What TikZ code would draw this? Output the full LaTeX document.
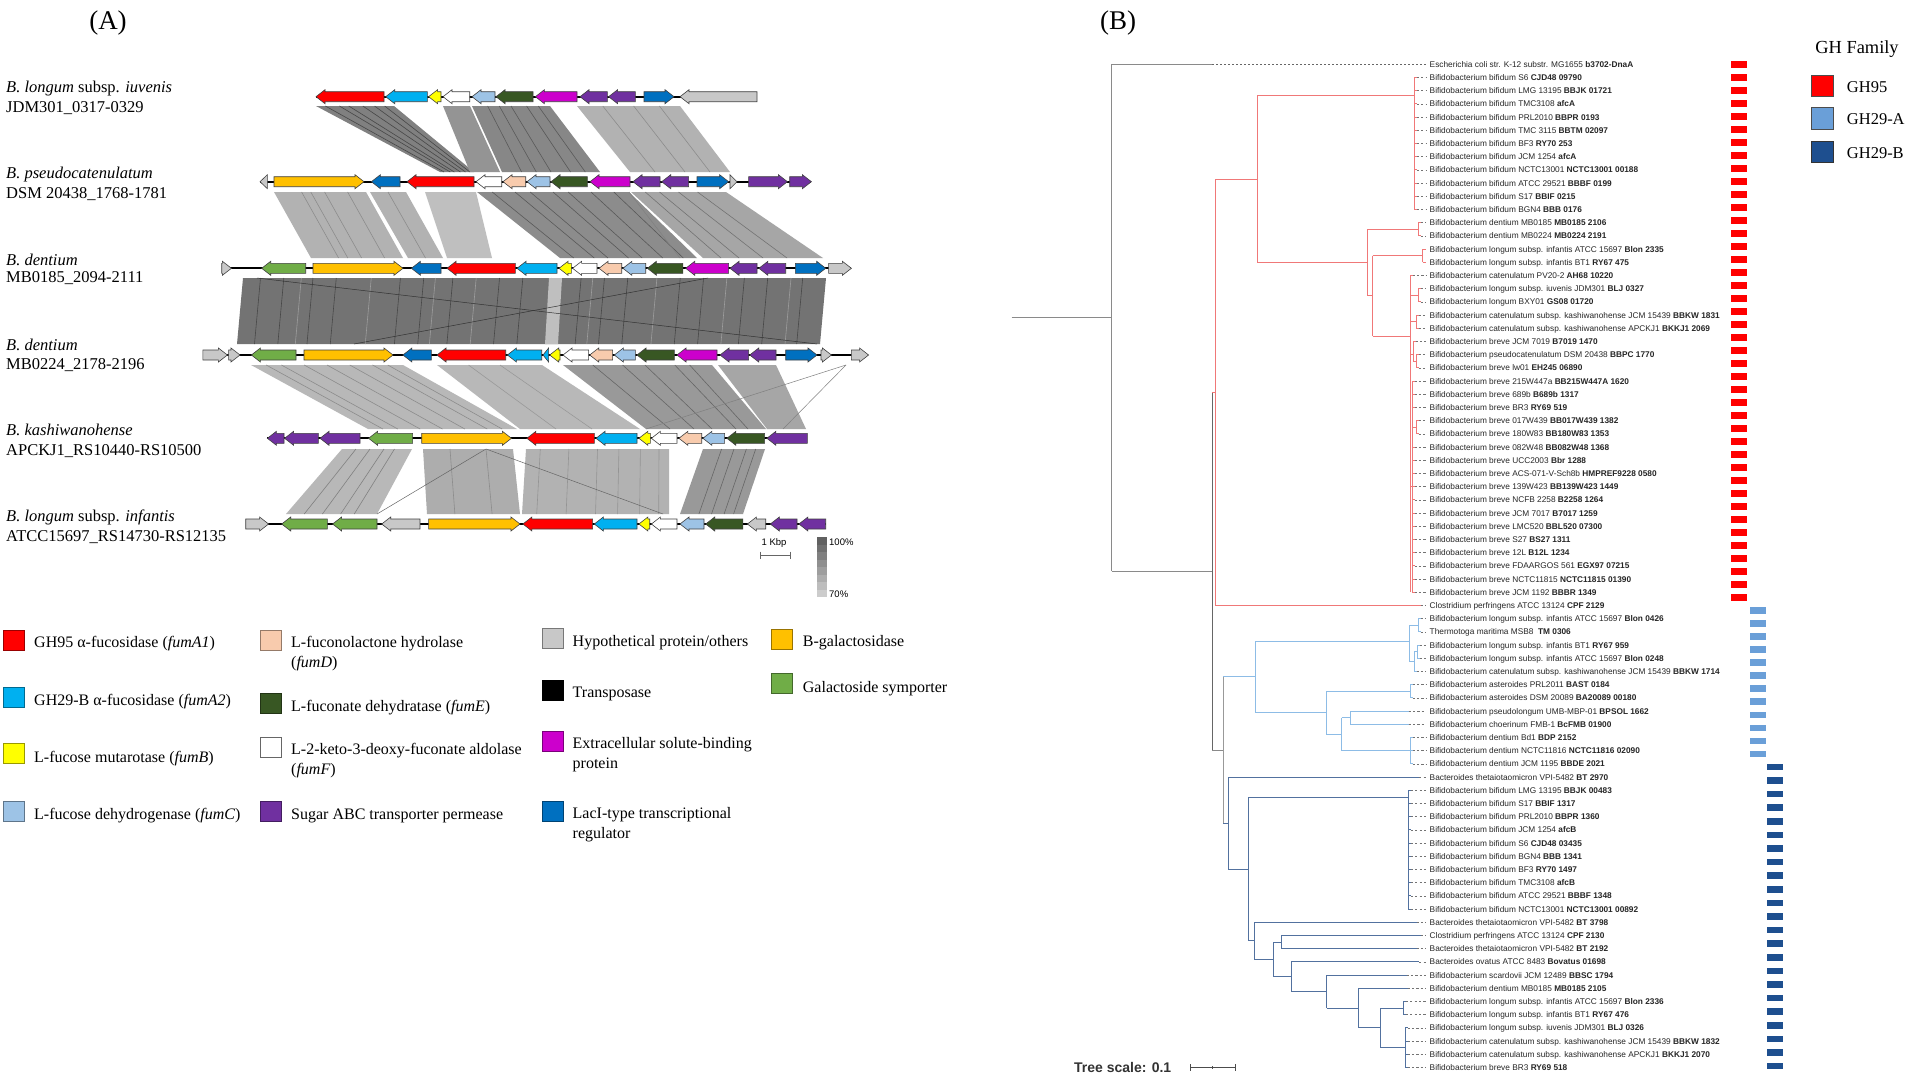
\documentclass[tikz,border=0pt]{standalone}
\usepackage{fontspec}
\setmainfont{Liberation Serif}
\newfontfamily\arialf{Liberation Sans}
\definecolor{gRed}{HTML}{FF0000}
\definecolor{gCyan}{HTML}{00B0F0}
\definecolor{gYel}{HTML}{FFFF00}
\definecolor{gLB}{HTML}{9DC3E6}
\definecolor{gDG}{HTML}{385723}
\definecolor{gMag}{HTML}{CC00CC}
\definecolor{gPur}{HTML}{7030A0}
\definecolor{gBlue}{HTML}{0070C0}
\definecolor{gGray}{HTML}{C8C8C8}
\definecolor{gOr}{HTML}{FFC000}
\definecolor{gGr}{HTML}{70AD47}
\definecolor{gPe}{HTML}{F8CBAD}
\definecolor{trRed}{HTML}{F07878}
\definecolor{trLB}{HTML}{8DBCE6}
\definecolor{trDB}{HTML}{52719F}
\definecolor{trGray}{HTML}{8A8A8A}
\definecolor{barLB}{HTML}{6A9FD8}
\definecolor{barDB}{HTML}{1E4F8F}
\pgfmathdeclarefunction{ly}{1}{\pgfmathparse{64.3+(#1-1)*13.2}}
\tikzset{
 genestyle/.style={draw=black!75, line width=0.6pt},
 ldash/.style={draw=black!55, line width=0.6pt, dash pattern=on 2.2pt off 2.2pt},
 rbr/.style={draw=trRed, line width=0.9pt},
 lbr/.style={draw=trLB, line width=0.9pt},
 dbr/.style={draw=trDB, line width=0.9pt},
 gbr/.style={draw=trGray, line width=0.9pt},
 leaftxt/.style={font=\arialf\fontsize{8.3}{9}\selectfont, text=black!85, anchor=base west, inner sep=0pt},
 trk/.style={font=\fontsize{16.5}{18}\selectfont, anchor=base west, inner sep=0pt},
 lgt/.style={font=\fontsize{16}{18}\selectfont, anchor=base west, inner sep=0pt},
 lgbox/.style={line width=0.8pt},
 smallsans/.style={font=\arialf\fontsize{9.5}{10}\selectfont, inner sep=0pt},
}
% genes
\newcommand\gl[3]{%
 \pgfmathsetmacro\hx{#1+min(9,#2-#1)}%
 \draw[genestyle, fill=#3] (#1,\ty) -- (\hx,{\ty-7}) -- (\hx,{\ty-5}) -- (#2,{\ty-5}) -- (#2,{\ty+5}) -- (\hx,{\ty+5}) -- (\hx,{\ty+7}) -- cycle;}
\newcommand\gr[3]{%
 \pgfmathsetmacro\hx{#2-min(9,#2-#1)}%
 \draw[genestyle, fill=#3] (#2,\ty) -- (\hx,{\ty-7}) -- (\hx,{\ty-5}) -- (#1,{\ty-5}) -- (#1,{\ty+5}) -- (\hx,{\ty+5}) -- (\hx,{\ty+7}) -- cycle;}
\newcommand\bb[2]{\draw[line width=1.8pt] (#1,\ty) -- (#2,\ty);}
% synteny bands
\newcommand\band[7]{\fill[#7] (#1,#5) -- (#2,#5) -- (#4,#6) -- (#3,#6) -- cycle;}
\newcommand\stripes[8]{\foreach \f in {#8} {\draw[#7, line width=0.6pt] ({#1+\f*(#2-#1)},#5) -- ({#3+\f*(#4-#3)},#6);}}
% tree
\newcommand\hb[4]{\draw[#4] (#1,{ly(#3)}) -- (#2,{ly(#3)});}
\newcommand\vb[4]{\draw[#4] (#1,{ly(#2)}) -- (#1,{ly(#3)});}
\newcommand\lf[3]{\draw[#3] (#2,{ly(#1)}) -- ({#2+2.5},{ly(#1)}); \draw[ldash] ({#2+2.5},{ly(#1)}) -- (1426,{ly(#1)});}
\newcommand\lbox[3]{\draw[lgbox, fill=#3, draw=#3!60!black] (#1,{#2-10}) rectangle ({#1+21},{#2+10});}
\begin{document}
\begin{tikzpicture}[x=1pt,y=-1pt]
\useasboundingbox (0,0) rectangle (1908,1076);
\fill[white] (0,0) rectangle (1908,1076);

\node[font=\fontsize{27}{30}\selectfont] (labA) at (108,23) {(A)};
\node[font=\fontsize{27}{30}\selectfont] (labB) at (1118,23) {(B)};

% ---------------- synteny bands ----------------
% pair 1-2
\band{316}{394}{440}{474}{106}{172}{black!50}
\stripes{316}{394}{440}{474}{106}{172}{black!72}{0.12,0.3,0.42,0.6,0.75,0.88}
\band{443}{470}{470}{500}{106}{172}{black!42}
\band{472}{550}{502}{600}{106}{172}{black!47}
\stripes{472}{550}{502}{600}{106}{172}{black!65}{0.2,0.35,0.5,0.7,0.85}
\band{577}{680}{630}{730}{106}{172}{black!30}
\stripes{577}{680}{630}{730}{106}{172}{black!45}{0.25,0.55,0.8}
% pair 2-3
\band{274}{366}{311}{403}{192}{258}{black!30}
\stripes{274}{366}{311}{403}{192}{258}{black!45}{0.3,0.4,0.55,0.8}
\band{370}{406}{408}{443}{192}{258}{black!30}
\stripes{370}{406}{408}{443}{192}{258}{black!45}{0.5}
\band{425}{476}{447}{492}{192}{258}{black!25}
\band{477}{629}{560}{697}{192}{258}{black!45}
\stripes{477}{629}{560}{697}{192}{258}{black!65}{0.1,0.25,0.35,0.5,0.6,0.75,0.9}
\band{631}{726}{703}{823}{192}{258}{black!35}
\stripes{631}{726}{703}{823}{192}{258}{black!55}{0.15,0.3,0.5,0.7}
\draw[black!50, line width=0.5pt] (629,192) -- (680,258);
% pair 3-4
\band{243}{826}{237}{820}{278}{344}{black!55}
\stripes{243}{826}{237}{820}{278}{344}{black!72}{0.03,0.07,0.12,0.16,0.27,0.31,0.36,0.44,0.48,0.58,0.62,0.66,0.75,0.79,0.86,0.9,0.96}
\stripes{243}{826}{237}{820}{278}{344}{black!38}{0.1,0.22,0.33,0.4,0.53,0.6,0.71,0.83,0.94}
\band{549}{562}{545}{558}{278}{344}{black!25}
\draw[black!80, line width=0.5pt] (257,278) -- (817,344);
\draw[black!80, line width=0.5pt] (354,344) -- (708,278);
% pair 4-5
\band{251}{403}{368}{517}{365}{429}{black!28}
\stripes{251}{403}{368}{517}{365}{429}{black!45}{0.1,0.2,0.35,0.5,0.65,0.8,0.9}
\band{437}{542}{520}{640}{365}{429}{black!28}
\stripes{437}{542}{520}{640}{365}{429}{black!40}{0.3,0.6}
\band{563}{712}{646}{766}{365}{429}{black!40}
\stripes{563}{712}{646}{766}{365}{429}{black!60}{0.2,0.4,0.55,0.75,0.85}
\band{718}{776}{767}{806}{365}{429}{black!35}
\draw[black!50, line width=0.5pt] (846,365) -- (646,429);
\draw[black!50, line width=0.5pt] (846,365) -- (783,429);
% pair 5-6
\band{342}{412}{286}{377}{449}{514}{black!28}
\stripes{342}{412}{286}{377}{449}{514}{black!50}{0.2,0.4,0.6,0.75}
\band{423}{513}{427}{520}{449}{514}{black!32}
\stripes{423}{513}{427}{520}{449}{514}{black!45}{0.3,0.7}
\band{526}{669}{522}{669}{449}{514}{black!30}
\stripes{526}{669}{522}{669}{449}{514}{black!42}{0.1,0.3,0.5,0.65,0.8,0.93}
\band{703}{765}{680}{743}{449}{514}{black!40}
\stripes{703}{765}{680}{743}{449}{514}{black!60}{0.3,0.5,0.7,0.85}
\draw[black!60, line width=0.5pt] (486,449) -- (377,514);
\draw[black!60, line width=0.5pt] (486,449) -- (663,514);

% ---------------- gene tracks ----------------
\def\ty{96.7}
\bb{316}{757}
\gl{316}{384}{gRed}\gl{385.7}{427.4}{gCyan}\gl{428.6}{441}{gYel}\gl{443}{469.7}{white}
\gl{472}{495}{gLB}\gl{496}{533}{gDG}\gl{535.4}{577}{gMag}\gl{580}{607.4}{gPur}
\gl{608.6}{635.4}{gPur}\gr{644}{674}{gBlue}\gl{680}{757}{gGray}

\def\ty{181.7}
\bb{260}{811}
\gl{260}{267.4}{gGray}\gr{274}{364}{gOr}\gl{371.4}{400}{gBlue}\gl{407}{474}{gRed}
\gl{476}{501.7}{white}\gl{503}{525.7}{gPe}\gl{527}{550}{gLB}\gl{551}{587.4}{gDG}
\gl{590}{630}{gMag}\gl{633}{660}{gPur}\gl{661.7}{688.6}{gPur}\gr{697}{728.6}{gBlue}
\gr{730}{737}{gGray}\gr{748.6}{787.4}{gPur}\gr{789.7}{811.4}{gPur}

\def\ty{268.3}
\bb{222}{851}
\gr{221.7}{231.4}{gGray}\gl{261.7}{305.7}{gGr}\gr{313}{403}{gOr}\gl{411.4}{441}{gBlue}
\gl{447}{515.4}{gRed}\gl{517}{557}{gCyan}\gl{559}{571.4}{gYel}\gl{572.6}{597}{white}
\gl{599}{621.7}{gPe}\gl{622.9}{645.7}{gLB}\gl{647.4}{682.9}{gDG}\gl{685.7}{728.6}{gMag}
\gl{730}{757}{gPur}\gl{758.9}{785.7}{gPur}\gr{795.4}{825.7}{gBlue}\gr{828.6}{851.4}{gGray}

\def\ty{355}
\bb{203}{868}
\gr{202.9}{227.4}{gGray}\gr{228.6}{240}{gGray}\gl{251.4}{296}{gGr}\gr{304}{393}{gOr}
\gl{402.9}{431.4}{gBlue}\gl{437}{505.7}{gRed}\gl{507.4}{541.7}{gCyan}\gl{543}{548.6}{gCyan}
\gl{549.7}{560}{gYel}\gl{563}{588.6}{white}\gl{589.7}{612.6}{gPe}\gl{614.3}{635.4}{gLB}
\gl{637}{674.3}{gDG}\gl{677}{717}{gMag}\gl{720}{748.6}{gPur}\gl{749.7}{776}{gPur}
\gr{785.7}{817}{gBlue}\gr{821}{831.4}{gGray}\gr{851.4}{868.6}{gGray}

\def\ty{438.3}
\bb{267}{807}
\gl{267.4}{284}{gPur}\gl{284.6}{318.3}{gPur}\gl{320}{360}{gPur}\gl{368.6}{412.6}{gGr}
\gr{421.7}{511.4}{gOr}\gl{526.9}{594.3}{gRed}\gl{596}{637}{gCyan}\gl{638.9}{650.3}{gYel}
\gl{651.4}{677}{white}\gl{678.9}{701.7}{gPe}\gl{702.9}{724.6}{gLB}\gl{726.9}{764.6}{gDG}
\gl{766.9}{807.4}{gPur}

\def\ty{524}
\bb{246}{826}
\gr{245.7}{268.6}{gGray}\gl{281.7}{327.4}{gGr}\gl{332.6}{377}{gGr}\gl{381.7}{420}{gGray}
\gr{428.6}{520}{gOr}\gl{522.9}{592.6}{gRed}\gl{594.3}{637}{gCyan}\gl{638.9}{649.7}{gYel}
\gl{651.4}{677}{white}\gl{680}{704}{gLB}\gl{705.7}{742.9}{gDG}\gl{747.4}{765.7}{gGray}
\gl{770.3}{797}{gPur}\gl{798.9}{825.7}{gPur}

% track labels
\node[trk] (t1a) at (6,92.2) {\textit{B. longum} subsp. \textit{iuvenis}};
\node[trk] (t1b) at (6,112.2) {JDM301\_0317-0329};
\node[trk] (t2a) at (6,178.8) {\textit{B. pseudocatenulatum}};
\node[trk] (t2b) at (6,198.8) {DSM 20438\_1768-1781};
\node[trk] (t3a) at (6,265.5) {\textit{B. dentium}};
\node[trk] (t3b) at (6,282.2) {MB0185\_2094-2111};
\node[trk] (t4a) at (6,350.5) {\textit{B. dentium}};
\node[trk] (t4b) at (6,369.8) {MB0224\_2178-2196};
\node[trk] (t5a) at (6,435.5) {\textit{B. kashiwanohense}};
\node[trk] (t5b) at (6,455.5) {APCKJ1\_RS10440-RS10500};
\node[trk] (t6a) at (6,521.5) {\textit{B. longum} subsp. \textit{infantis}};
\node[trk] (t6b) at (6,541.5) {ATCC15697\_RS14730-RS12135};

% scale and identity legend
\node[smallsans] (kbp) at (774,543) {1 Kbp};
\draw[black!60, line width=0.8pt] (760,555) -- (790,555);
\draw[black!60, line width=0.8pt] (760,551.5) -- (760,558.5);
\draw[black!60, line width=0.8pt] (790,551.5) -- (790,558.5);
\foreach \k in {0,...,7} {
  \pgfmathsetmacro\shade{62-\k*6}
  \fill[black!\shade] (817,{537+\k*7.5}) rectangle (827,{537+(\k+1)*7.5});
}
\node[smallsans, anchor=west] (p100) at (829,542) {100\%};
\node[smallsans, anchor=west] (p70) at (829,594) {70\%};

% ---------------- legend (A) ----------------
\lbox{3}{640}{gRed}   \node[lgt] (lg1) at (34,647) {GH95 α-fucosidase (\textit{fumA1})};
\lbox{3}{697}{gCyan}  \node[lgt] (lg2) at (34,705) {GH29-B α-fucosidase (\textit{fumA2})};
\lbox{3}{753}{gYel}   \node[lgt] (lg3) at (34,762) {L-fucose mutarotase (\textit{fumB})};
\lbox{3}{811}{gLB}    \node[lgt] (lg4) at (34,819) {L-fucose dehydrogenase (\textit{fumC})};
\lbox{260}{640}{gPe}  \node[lgt] (lg5) at (291,647) {L-fuconolactone hydrolase};
                      \node[lgt] (lg5b) at (291,667) {(\textit{fumD})};
\lbox{260}{703}{gDG}  \node[lgt] (lg6) at (291,711) {L-fuconate dehydratase (\textit{fumE})};
\draw[lgbox, fill=white, draw=black!60] (260,737) rectangle (281,757);
                      \node[lgt] (lg7) at (291,754.5) {L-2-keto-3-deoxy-fuconate aldolase};
                      \node[lgt] (lg7b) at (291,774.5) {(\textit{fumF})};
\lbox{260}{811}{gPur} \node[lgt] (lg8) at (291,819) {Sugar ABC transporter permease};
\lbox{542.6}{638}{gGray} \node[lgt] (lg9) at (572.5,646) {Hypothetical protein/others};
\draw[lgbox, fill=black, draw=black] (542.6,680) rectangle (563.6,700);
                      \node[lgt] (lg10) at (572.5,697) {Transposase};
\lbox{542.6}{741.7}{gMag} \node[lgt] (lg11) at (572.5,748.5) {Extracellular solute-binding};
                      \node[lgt] (lg11b) at (572.5,768.5) {protein};
\lbox{542.6}{811}{gBlue} \node[lgt] (lg12) at (572.5,818.5) {LacI-type transcriptional};
                      \node[lgt] (lg12b) at (572.5,838.5) {regulator};
\lbox{771.6}{639}{gOr} \node[lgt] (lg13) at (802.7,646) {B-galactosidase};
\lbox{771.6}{683}{gGr} \node[lgt] (lg14) at (802.7,692) {Galactoside symporter};

% ---------------- tree (B) ----------------
\draw[gbr] (1011.7,{ly(20.2)}) -- (1111.7,{ly(20.2)});
\vb{1111.7}{1}{39.4}{gbr}
\hb{1111.7}{1212.3}{1}{gbr}
\draw[black!60, line width=0.8pt, dash pattern=on 1.5pt off 2.5pt] (1212.3,{ly(1)}) -- (1426,{ly(1)});
\hb{1111.7}{1212.3}{39.4}{gbr}
\vb{1212.3}{25.85}{52.95}{draw=black!60, line width=0.9pt}
% red clade
\hb{1212.3}{1215.7}{25.85}{rbr}
\vb{1215.7}{9.7}{42}{rbr}
\hb{1215.7}{1257}{9.7}{rbr}
\vb{1257}{3.37}{16.02}{rbr}
\hb{1257}{1414.3}{3.37}{rbr}
\vb{1414.3}{2}{12}{rbr}
\foreach \i in {2,...,12} {\lf{\i}{1414.3}{rbr}}
\hb{1257}{1367.3}{16.02}{rbr}
\vb{1367.3}{13.5}{18.54}{rbr}
\hb{1367.3}{1418.3}{13.5}{rbr}
\vb{1418.3}{13}{14}{rbr}
\lf{13}{1418.3}{rbr}\lf{14}{1418.3}{rbr}
\hb{1367.3}{1372.7}{18.54}{rbr}
\vb{1372.7}{15.5}{21.58}{rbr}
\hb{1372.7}{1422.7}{15.5}{rbr}
\vb{1422.7}{15}{16}{rbr}
\draw[rbr] (1422.7,{ly(15)}) -- (1426,{ly(15)});
\draw[rbr] (1422.7,{ly(16)}) -- (1426,{ly(16)});
\hb{1372.7}{1410}{21.58}{rbr}
\vb{1410}{17}{41}{rbr}
\lf{17}{1410}{rbr}
\hb{1410}{1418}{18.5}{rbr}\vb{1418}{18}{19}{rbr}\lf{18}{1418}{rbr}\lf{19}{1418}{rbr}
\hb{1410}{1416}{20.5}{rbr}\vb{1416}{20}{21}{rbr}\lf{20}{1416}{rbr}\lf{21}{1416}{rbr}
\hb{1410}{1413}{23}{rbr}\vb{1413}{22}{23.5}{rbr}\lf{22}{1413}{rbr}
\hb{1413}{1416}{23.5}{rbr}\vb{1416}{23}{24}{rbr}\lf{23}{1416}{rbr}\lf{24}{1416}{rbr}
\hb{1410}{1412}{33}{rbr}\vb{1412}{25}{41}{rbr}
\foreach \i in {25,26,27,30,31,32,33,34,35,36,37,38,39,40,41} {\lf{\i}{1412}{rbr}}
\hb{1412}{1416}{28.5}{rbr}\vb{1416}{28}{29}{rbr}\lf{28}{1416}{rbr}\lf{29}{1416}{rbr}
\hb{1215.7}{1418}{42}{rbr}\lf{42}{1418}{rbr}
% GH29-A clade
\hb{1212.3}{1223.3}{52.95}{gbr}
\vb{1223.3}{47.41}{58.48}{draw=black!40, line width=0.9pt}
\hb{1223.3}{1255}{47.41}{lbr}
\vb{1255}{44.69}{50.13}{lbr}
\hb{1255}{1409.3}{44.69}{lbr}
\vb{1409.3}{43.5}{46.25}{lbr}
\hb{1409.3}{1418}{43.5}{lbr}\vb{1418}{43}{44}{lbr}\lf{43}{1418}{lbr}\lf{44}{1418}{lbr}
\hb{1409.3}{1414}{46.25}{lbr}\vb{1414}{45.5}{47}{lbr}\lf{47}{1414}{lbr}
\hb{1414}{1417}{45.5}{lbr}\vb{1417}{45}{46}{lbr}\lf{45}{1417}{lbr}\lf{46}{1417}{lbr}
\hb{1255}{1326}{50.13}{lbr}
\vb{1326}{48.5}{51.75}{lbr}
\hb{1326}{1410}{48.5}{lbr}\vb{1410}{48}{49}{lbr}\lf{48}{1410}{lbr}\lf{49}{1410}{lbr}
\hb{1326}{1341.7}{51.75}{lbr}
\vb{1341.7}{50.5}{53}{lbr}
\hb{1341.7}{1350}{50.5}{lbr}\vb{1350}{50}{51}{lbr}
\hb{1350}{1406}{50}{lbr}\lf{50}{1406}{lbr}
\hb{1350}{1406}{51}{lbr}\lf{51}{1406}{lbr}
\hb{1341.7}{1410}{53}{lbr}\vb{1410}{52}{54}{lbr}
\lf{52}{1410}{lbr}\lf{53}{1410}{lbr}\lf{54}{1410}{lbr}
% GH29-B clade
\hb{1223.3}{1228.3}{58.48}{dbr}
\vb{1228.3}{55}{61.96}{dbr}
\hb{1228.3}{1416.7}{55}{dbr}\lf{55}{1416.7}{dbr}
\hb{1228.3}{1248.3}{61.96}{dbr}
\vb{1248.3}{56.51}{67.41}{dbr}
\hb{1248.3}{1408.3}{56.51}{dbr}
\vb{1408.3}{56}{65}{dbr}
\foreach \i in {56,...,65} {\lf{\i}{1408.3}{dbr}}
\hb{1248.3}{1254}{67.41}{dbr}
\vb{1254}{66}{68.81}{dbr}
\hb{1254}{1414}{66}{dbr}\lf{66}{1414}{dbr}
\hb{1254}{1273.3}{68.81}{dbr}
\vb{1273.3}{67.5}{70.13}{dbr}
\hb{1273.3}{1281}{67.5}{dbr}\vb{1281}{67}{68}{dbr}
\hb{1281}{1418}{67}{dbr}\lf{67}{1418}{dbr}
\hb{1281}{1414}{68}{dbr}\lf{68}{1414}{dbr}
\hb{1273.3}{1291}{70.13}{dbr}
\vb{1291}{69}{71.25}{dbr}
\hb{1291}{1416.7}{69}{dbr}\lf{69}{1416.7}{dbr}
\hb{1291}{1326.7}{71.25}{dbr}
\vb{1326.7}{70}{72.5}{dbr}
\hb{1326.7}{1404}{70}{dbr}\lf{70}{1404}{dbr}
\hb{1326.7}{1358.3}{72.5}{dbr}
\vb{1358.3}{71}{74}{dbr}
\hb{1358.3}{1405}{71}{dbr}\lf{71}{1405}{dbr}
\hb{1358.3}{1380}{74}{dbr}
\vb{1380}{72.5}{75.5}{dbr}
\hb{1380}{1403.3}{72.5}{dbr}\vb{1403.3}{72}{73}{dbr}\lf{72}{1403.3}{dbr}\lf{73}{1403.3}{dbr}
\hb{1380}{1405}{75.5}{dbr}\vb{1405}{74}{77}{dbr}
\foreach \i in {74,...,77} {\lf{\i}{1405}{dbr}}

% leaf labels
\foreach \i/\nm/\id in {
1/Escherichia coli str. K-12 substr. MG1655/b3702-DnaA,
2/Bifidobacterium bifidum S6/CJD48 09790,
3/Bifidobacterium bifidum LMG 13195/BBJK 01721,
4/Bifidobacterium bifidum TMC3108/afcA,
5/Bifidobacterium bifidum PRL2010/BBPR 0193,
6/Bifidobacterium bifidum TMC 3115/BBTM 02097,
7/Bifidobacterium bifidum BF3/RY70 253,
8/Bifidobacterium bifidum JCM 1254/afcA,
9/Bifidobacterium bifidum NCTC13001/NCTC13001 00188,
10/Bifidobacterium bifidum ATCC 29521/BBBF 0199,
11/Bifidobacterium bifidum S17/BBIF 0215,
12/Bifidobacterium bifidum BGN4/BBB 0176,
13/Bifidobacterium dentium MB0185/MB0185 2106,
14/Bifidobacterium dentium MB0224/MB0224 2191,
15/Bifidobacterium longum subsp. infantis ATCC 15697/Blon 2335,
16/Bifidobacterium longum subsp. infantis BT1/RY67 475,
17/Bifidobacterium catenulatum PV20-2/AH68 10220,
18/Bifidobacterium longum subsp. iuvenis JDM301/BLJ 0327,
19/Bifidobacterium longum BXY01/GS08 01720,
20/Bifidobacterium catenulatum subsp. kashiwanohense JCM 15439/BBKW 1831,
21/Bifidobacterium catenulatum subsp. kashiwanohense APCKJ1/BKKJ1 2069,
22/Bifidobacterium breve JCM 7019/B7019 1470,
23/Bifidobacterium pseudocatenulatum DSM 20438/BBPC 1770,
24/Bifidobacterium breve lw01/EH245 06890,
25/Bifidobacterium breve 215W447a/BB215W447A 1620,
26/Bifidobacterium breve 689b/B689b 1317,
27/Bifidobacterium breve BR3/RY69 519,
28/Bifidobacterium breve 017W439/BB017W439 1382,
29/Bifidobacterium breve 180W83/BB180W83 1353,
30/Bifidobacterium breve 082W48/BB082W48 1368,
31/Bifidobacterium breve UCC2003/Bbr 1288,
32/Bifidobacterium breve ACS-071-V-Sch8b/HMPREF9228 0580,
33/Bifidobacterium breve 139W423/BB139W423 1449,
34/Bifidobacterium breve NCFB 2258/B2258 1264,
35/Bifidobacterium breve JCM 7017/B7017 1259,
36/Bifidobacterium breve LMC520/BBL520 07300,
37/Bifidobacterium breve S27/BS27 1311,
38/Bifidobacterium breve 12L/B12L 1234,
39/Bifidobacterium breve FDAARGOS 561/EGX97 07215,
40/Bifidobacterium breve NCTC11815/NCTC11815 01390,
41/Bifidobacterium breve JCM 1192/BBBR 1349,
42/Clostridium perfringens ATCC 13124/CPF 2129,
43/Bifidobacterium longum subsp. infantis ATCC 15697/Blon 0426,
44/Thermotoga maritima MSB8/\ TM 0306,
45/Bifidobacterium longum subsp. infantis BT1/RY67 959,
46/Bifidobacterium longum subsp. infantis ATCC 15697/Blon 0248,
47/Bifidobacterium catenulatum subsp. kashiwanohense JCM 15439/BBKW 1714,
48/Bifidobacterium asteroides PRL2011/BAST 0184,
49/Bifidobacterium asteroides DSM 20089/BA20089 00180,
50/Bifidobacterium pseudolongum UMB-MBP-01/BPSOL 1662,
51/Bifidobacterium choerinum FMB-1/BcFMB 01900,
52/Bifidobacterium dentium Bd1/BDP 2152,
53/Bifidobacterium dentium NCTC11816/NCTC11816 02090,
54/Bifidobacterium dentium JCM 1195/BBDE 2021,
55/Bacteroides thetaiotaomicron VPI-5482/BT 2970,
56/Bifidobacterium bifidum LMG 13195/BBJK 00483,
57/Bifidobacterium bifidum S17/BBIF 1317,
58/Bifidobacterium bifidum PRL2010/BBPR 1360,
59/Bifidobacterium bifidum JCM 1254/afcB,
60/Bifidobacterium bifidum S6/CJD48 03435,
61/Bifidobacterium bifidum BGN4/BBB 1341,
62/Bifidobacterium bifidum BF3/RY70 1497,
63/Bifidobacterium bifidum TMC3108/afcB,
64/Bifidobacterium bifidum ATCC 29521/BBBF 1348,
65/Bifidobacterium bifidum NCTC13001/NCTC13001 00892,
66/Bacteroides thetaiotaomicron VPI-5482/BT 3798,
67/Clostridium perfringens ATCC 13124/CPF 2130,
68/Bacteroides thetaiotaomicron VPI-5482/BT 2192,
69/Bacteroides ovatus ATCC 8483/Bovatus 01698,
70/Bifidobacterium scardovii JCM 12489/BBSC 1794,
71/Bifidobacterium dentium MB0185/MB0185 2105,
72/Bifidobacterium longum subsp. infantis ATCC 15697/Blon 2336,
73/Bifidobacterium longum subsp. infantis BT1/RY67 476,
74/Bifidobacterium longum subsp. iuvenis JDM301/BLJ 0326,
75/Bifidobacterium catenulatum subsp. kashiwanohense JCM 15439/BBKW 1832,
76/Bifidobacterium catenulatum subsp. kashiwanohense APCKJ1/BKKJ1 2070,
77/Bifidobacterium breve BR3/RY69 518} {
  \node[leaftxt] (leaf\i) at (1429.5,{ly(\i)+2.9}) {\nm\ \textbf{\id}};
}

% GH family strips
\foreach \k in {1,...,42} {\fill[gRed] (1731,{64.3+(\k-1)*13.01-3.3}) rectangle (1747,{64.3+(\k-1)*13.01+3.3});}
\foreach \k in {43,...,54} {\fill[barLB] (1750,{64.3+(\k-1)*13.01-3.3}) rectangle (1766,{64.3+(\k-1)*13.01+3.3});}
\foreach \k in {0,...,22} {\fill[barDB] (1767,{767+\k*13.59-3.3}) rectangle (1783,{767+\k*13.59+3.3});}

% tree scale
\node[font=\arialf\bfseries\fontsize{14}{16}\selectfont, text=black!80, anchor=base west, inner sep=0pt] (tscale) at (1074,1072.5) {Tree scale: 0.1};
\draw[black!70, line width=0.9pt] (1190,1067.5) -- (1235.7,1067.5);
\draw[black!70, line width=0.9pt] (1190,1064) -- (1190,1071);
\draw[black!70, line width=0.9pt] (1235.7,1064) -- (1235.7,1071);
\draw[black!70, line width=0.7pt] (1212.8,1066) -- (1212.8,1069);

% GH family legend
\node[font=\fontsize{18.4}{20}\selectfont] (ghf) at (1857,49) {GH Family};
\draw[line width=0.9pt, fill=gRed, draw=black!70] (1811.7,75) rectangle (1833.3,96.7);
\draw[line width=0.9pt, fill=barLB, draw=black!70] (1811.7,107.3) rectangle (1833.3,129.3);
\draw[line width=0.9pt, fill=barDB, draw=black!80] (1811.7,141) rectangle (1833.3,162.7);
\node[font=\fontsize{16.5}{18}\selectfont, anchor=base west, inner sep=0pt] (gh95) at (1846.7,92) {GH95};
\node[font=\fontsize{16.5}{18}\selectfont, anchor=base west, inner sep=0pt] (gh29a) at (1846.7,124) {GH29-A};
\node[font=\fontsize{16.5}{18}\selectfont, anchor=base west, inner sep=0pt] (gh29b) at (1846.7,158) {GH29-B};
\end{tikzpicture}
\end{document}
